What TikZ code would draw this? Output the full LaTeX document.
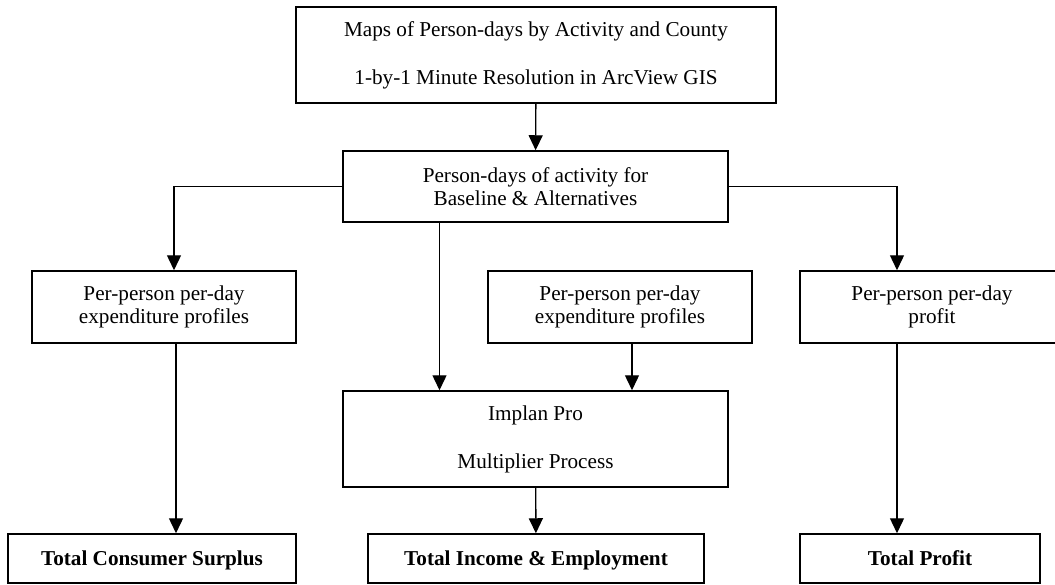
\documentclass[tikz,border=0pt]{standalone}
\usepackage{fontspec}
\setmainfont{Liberation Serif}
\usepackage{xcolor}
\usepackage{tikz}
\usetikzlibrary{arrows.meta, positioning, calc}

\begin{document}
\begin{tikzpicture}[
    x=0.5pt, y=-0.5pt,
    flowbox/.style={rectangle, draw=black, line width=0.75pt, minimum width=#1, inner sep=0pt, align=center, font=\fontsize{10.6}{11.5}\selectfont},
    totalbox/.style={flowbox=#1, minimum height=24.5pt, text height=8pt, text depth=1.5pt, font=\fontsize{10.6}{11.5}\selectfont\bfseries},
    arr/.style={-{Triangle[width=7pt,length=7.5pt]}, line width=0.7pt}
]
\useasboundingbox (0,0) rectangle (1055,584);

% Top row
\node[flowbox=240pt, minimum height=48pt] (maps) at (536,55) {Maps of Person-days by Activity and County\\[12.5pt]1-by-1 Minute Resolution in ArcView GIS};
\node[flowbox=192.5pt, minimum height=35.5pt] (days) at (535.5,186.5) {Person-days of activity for\\Baseline \& Alternatives};

% Per-person boxes
\node[flowbox=132pt, minimum height=36pt] (expL) at (164,307) {Per-person per-day\\expenditure profiles};
\node[flowbox=132pt, minimum height=36pt] (expM) at (620,307) {Per-person per-day\\expenditure profiles};
\node[flowbox=132pt, minimum height=36pt] (profit) at (932,307) {Per-person per-day\\profit};

% Implan
\node[flowbox=192.5pt, minimum height=48pt] (implan) at (535.5,439) {Implan Pro\\[12.5pt]Multiplier Process};

% Totals
\node[totalbox=144pt] (totCS) at (152,558.5) {Total Consumer Surplus};
\node[totalbox=168pt] (totIE) at (536,558.5) {Total Income \& Employment};
\node[totalbox=120pt] (totP) at (920,558.5) {Total Profit};

% Connectors
\draw[arr] (maps) -- (days);
\draw[arr] (days.west) -| ([xshift=5pt]expL.north);
\draw[arr] (days.east) -| ([xshift=-17.5pt]profit.north);
\draw[arr] ([xshift=-48pt]days.south) -- ([xshift=-48pt]implan.north);
\draw[arr] ([xshift=6pt]expM.south) -- ([xshift=6pt]expM.south |- implan.north);
\draw[arr] ([xshift=6pt]expL.south) -- ([xshift=6pt]expL.south |- totCS.north);
\draw[arr] (implan) -- (totIE);
\draw[arr] ([xshift=-17.5pt]profit.south) -- ([xshift=-17.5pt]profit.south |- totP.north);

\end{tikzpicture}
\end{document}
